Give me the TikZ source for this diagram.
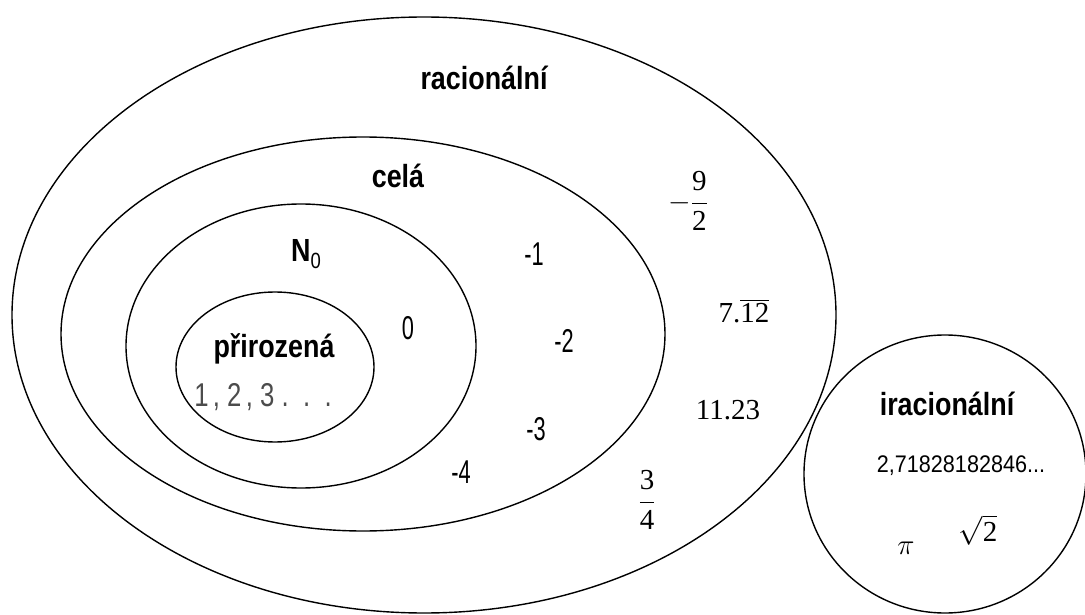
\RequirePackage{fix-cm}
\documentclass[tikz,border=0pt]{standalone}
\usepackage{fontspec}
\setmainfont{Liberation Serif}
\setsansfont{Liberation Sans}
\usepackage{amsmath}

% narrow letters, as in the scanned figure
\newcommand{\narrowbox}[1]{\scalebox{0.84}[1]{#1}}
\newcommand{\thinbox}[1]{\scalebox{0.66}[1]{#1}}

\tikzset{
    setline/.style={line width=1.4pt, black},
    setname/.style={font=\sffamily\bfseries\fontsize{32}{34}\selectfont},
    member/.style={font=\sffamily\fontsize{33}{35}\selectfont},
    serifmember/.style={font=\rmfamily\fontsize{29}{31}\selectfont}
}

\begin{document}
\begin{tikzpicture}[x=1pt, y=-1pt]
    \useasboundingbox (0,0) rectangle (1085,615);

    % Define the centres of the sets
    \coordinate (Q) at (424,315);
    \coordinate (Z) at (363,334);
    \coordinate (N0) at (301,346);
    \coordinate (N) at (275,367);
    \coordinate (I) at (945,474);

    % Draw the sets
    \draw[setline] (Q) ellipse [x radius=412, y radius=298];
    \draw[setline] (Z) ellipse [x radius=302, y radius=197];
    \draw[setline] (N0) ellipse [x radius=175, y radius=142];
    \draw[setline] (N) ellipse [x radius=99, y radius=75];
    \draw[setline] (I) ellipse [x radius=141, y radius=139];

    % Names of the sets
    \node[setname] (labQ) at (484,78) {\narrowbox{racionální}};
    \node[setname] (labZ) at (398,176) {\narrowbox{celá}};
    \node[setname] (labNo) at (306,254) {\narrowbox{N\textmd{\fontsize{22}{24}\selectfont\raisebox{-7pt}{0}}}};
    \node[setname] (labN) at (274,349) {\narrowbox{přirozená}};
    \node[setname] (labI) at (947,404) {\narrowbox{iracionální}};

    % Members
    \node[member, text=black!70] (nat) at (263,397) {\scalebox{0.78}[1]{1\,,\;2\,,\;3\;.\;\;.\;\;.}};
    \node[member] (zero) at (408,328) {\thinbox{0}};
    \node[member] (m1) at (534,254) {\thinbox{-1}};
    \node[member] (m2) at (564,341) {\thinbox{-2}};
    \node[member] (m3) at (536,429) {\thinbox{-3}};
    \node[member] (m4) at (461,472) {\thinbox{-4}};
    \node[serifmember] (f92) at (688,201) {$-\dfrac{\text{9}}{\text{2}}$};
    \node[serifmember] (per) at (744,311) {7.$\overline{\hbox{\rmfamily 12}}$};
    \node[serifmember] (dec) at (728,410) {11.23};
    \node[serifmember] (f34) at (647,500) {$\dfrac{\text{3}}{\text{4}}$};

    % Irrational members
    \node[font=\sffamily\fontsize{24}{26}\selectfont] (e) at (961,466) {\scalebox{0.9}[1]{2,71828182846...}};
    \node[serifmember] (pi) at (906,548) {$\pi$};
    \node[serifmember] (sq) at (978,530) {$\sqrt{\text{2}}$};
\end{tikzpicture}
\end{document}
